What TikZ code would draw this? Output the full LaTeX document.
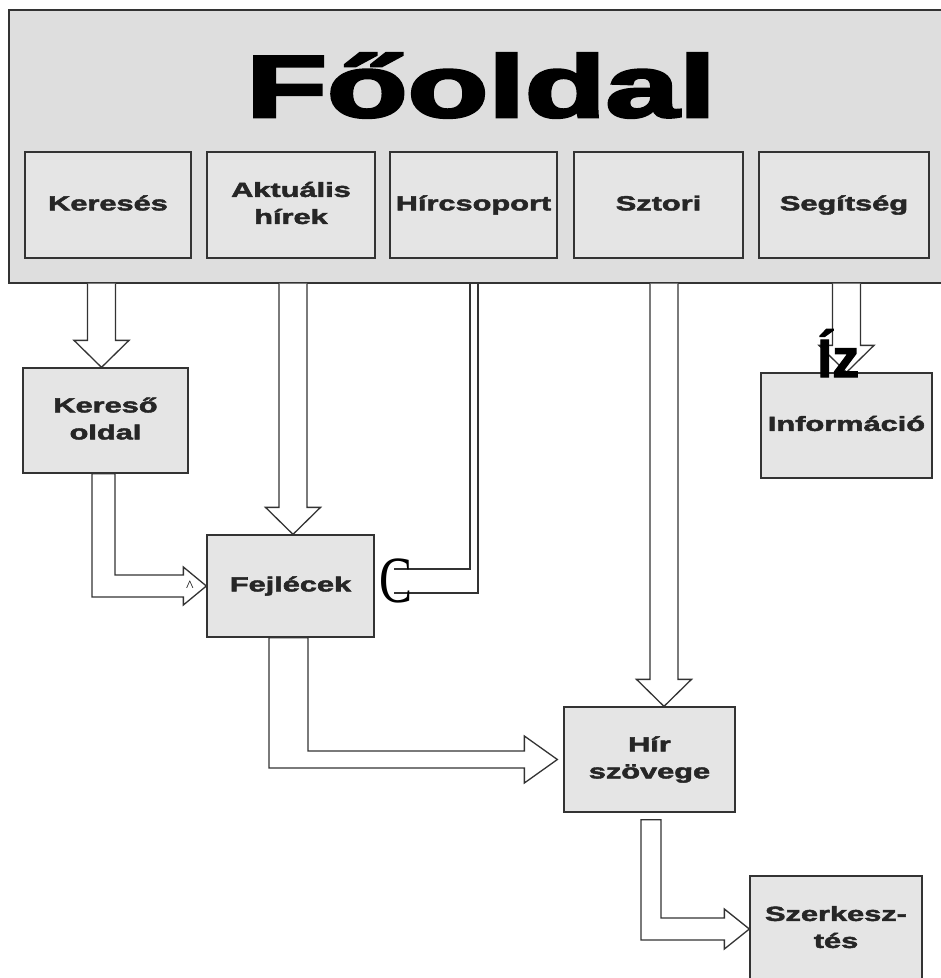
\documentclass[tikz,border=0pt]{standalone}
\usepackage{fontspec}
\setmainfont{Liberation Sans}[BoldFeatures={FakeBold=2}]
\newfontfamily\serifface{Liberation Serif}
\newfontfamily\titleface{Liberation Sans}[BoldFeatures={FakeBold=3}]
\usepackage{graphicx}
\usetikzlibrary{calc}

% wide bold labels, one or more lines
\newcommand{\lbl}[1]{\scalebox{1.5}[1]{\begin{tabular}{@{}c@{}}#1\end{tabular}}}

% straight block arrow down from the main frame to a tip
\newcommand{\vblock}[1]{%
  \draw[blockarrow] let \p1=(#1), \p2=(fooldal.south) in
    (\x1-14pt,\y2) -- (\x1-14pt,\y1+27pt) -- (\x1-27.5pt,\y1+27pt) -- (\x1,\y1)
    -- (\x1+27.5pt,\y1+27pt) -- (\x1+14pt,\y1+27pt) -- (\x1+14pt,\y2);}

% bent block arrow: start, tip, half shaft (down), half shaft (across), half head, head length
\newcommand{\lblock}[6]{%
  \draw[blockarrow] let \p1=(#1), \p2=(#2) in
    (\x1-#3,\y1) -- (\x1-#3,\y2-#4) -- (\x2-#6,\y2-#4) -- (\x2-#6,\y2-#5) -- (\x2,\y2)
    -- (\x2-#6,\y2+#5) -- (\x2-#6,\y2+#4) -- (\x1+#3,\y2+#4) -- (\x1+#3,\y1) -- cycle;}

\begin{document}
\begin{tikzpicture}[x=1pt,y=-1pt,
    box/.style={draw=black!80, line width=1.3pt, fill=black!10, text=black!85, inner sep=0pt,
      font={\bfseries\fontsize{20.5}{27}\selectfont}},
    blockarrow/.style={draw=black!80, line width=1.3pt, fill=white, line join=miter},
    conn/.style={draw=black!80, line width=1.3pt}]

    \useasboundingbox (0,0) rectangle (941,978);
    \fill[white] (0,0) rectangle (941,978);

    % Main page
    \node[box, fill=black!13, minimum width=936pt, minimum height=273pt] (fooldal) at (477,146.5) {};
    \node[anchor=base, inner sep=0pt, text=black, font={\titleface\bfseries\fontsize{88}{88}\selectfont}] (title) at (481,117) {\scalebox{1.5}[1]{Főoldal}};

    % Menu
    \node[box, minimum width=166pt, minimum height=106pt] (kereses) at (108,205) {\lbl{Keresés}};
    \node[box, minimum width=168pt, minimum height=106pt] (aktualis) at (291,205) {\lbl{Aktuális\\hírek}};
    \node[box, minimum width=167pt, minimum height=106pt] (hircsoport) at (473.5,205) {\lbl{Hírcsoport}};
    \node[box, minimum width=169pt, minimum height=106pt] (sztori) at (658.5,205) {\lbl{Sztori}};
    \node[box, minimum width=170pt, minimum height=106pt] (segitseg) at (844,205) {\lbl{Segítség}};

    % Pages
    \node[box, minimum width=165pt, minimum height=105pt] (kereso) at (105.5,420.5) {\lbl{Kereső\\oldal}};
    \node[box, minimum width=167pt, minimum height=102pt] (fejlecek) at (290.5,586) {\lbl{Fejlécek}};
    \node[box, minimum width=171pt, minimum height=105pt] (informacio) at (846.5,425.5) {\lbl{Információ}};
    \node[box, minimum width=171pt, minimum height=105pt] (hir) at (649.5,759.5) {\lbl{Hír\\szövege}};
    \node[box, minimum width=172pt, minimum height=106pt] (szerk) at (836,929) {\lbl{Szerkesz-\\tés}};

    % Arrows down from the menu
    \vblock{[xshift=-4pt]kereso.north}
    \vblock{[xshift=2.5pt]fejlecek.north}
    \vblock{[xshift=14.5pt]hir.north}
    \vblock{informacio.north}

    % Bent arrows
    \lblock{[xshift=-2pt]kereso.south}{fejlecek.west}{11.5pt}{11pt}{19pt}{23pt}
    \lblock{[xshift=-2pt]fejlecek.south}{[xshift=-6pt]hir.west}{19.5pt}{8.5pt}{23.5pt}{33pt}
    \lblock{[xshift=1.5pt,yshift=-7pt]hir.south}{szerk.west}{10pt}{11pt}{20pt}{25pt}

    % Hircsoport to Fejlecek
    \coordinate (hc1) at ([xshift=-3.5pt]hircsoport.south);
    \coordinate (hc2) at ([xshift=4.5pt]hircsoport.south);
    \draw[conn] (hc1 |- fooldal.south) |- ([xshift=19pt,yshift=17pt]fejlecek.east);
    \draw[conn] (hc2 |- fooldal.south) |- ([xshift=19pt,yshift=-7pt]fejlecek.east);

    % Stray marks
    \node[anchor=base, inner sep=0pt, font={\serifface\fontsize{66}{66}\selectfont}] (cmark) at (396,602) {\scalebox{0.75}[1]{C}};
    \node[inner sep=0pt, font={\serifface\fontsize{16}{16}\selectfont}] (caret) at (190,586) {\textasciicircum};
    \node[anchor=base west, inner sep=0pt, font={\bfseries\fontsize{54}{54}\selectfont}] (iz) at (817,377) {Íz};
\end{tikzpicture}
\end{document}
